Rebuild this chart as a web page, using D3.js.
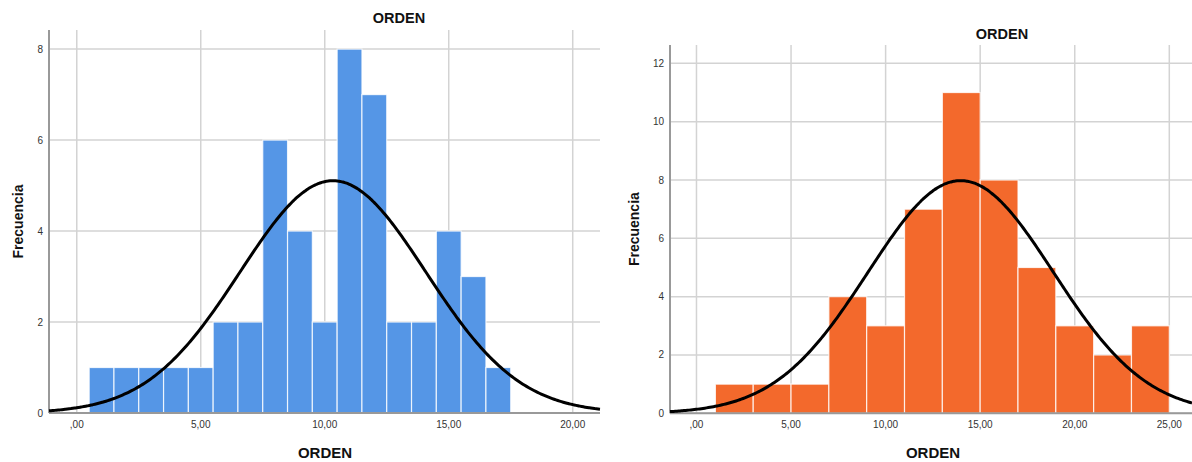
<!DOCTYPE html>
<html><head><meta charset="utf-8">
<script src="https://cdn.jsdelivr.net/npm/d3@7"></script>
<style>body{margin:0;background:#fff}svg{display:block}text{font-family:"Liberation Sans",Arial,sans-serif}</style>
</head><body><svg id="c" width="1192" height="462"></svg>
<script>
// ---- data ----
const leftBinLow = [0.5,1.5,2.5,3.5,4.5,5.5,6.5,7.5,8.5,9.5,10.5,11.5,12.5,13.5,14.5,15.5,16.5];
const leftCounts = [1,1,1,1,1,2,2,6,4,2,8,7,2,2,4,3,1];
const leftBinWidth = 1;
const leftMean = 10.33, leftSD = 3.75;
const leftXTicks = [0,5,10,15,20];
const leftXLabels = [",00","5,00","10,00","15,00","20,00"];
const leftYTicks = [0,2,4,6,8];

const rightBinLow = [1,3,5,7,9,11,13,15,17,19,21,23];
const rightCounts = [1,1,1,4,3,7,11,8,5,3,2,3];
const rightBinWidth = 2;
const rightMean = 13.97, rightSD = 4.9;
const rightXTicks = [0,5,10,15,20,25];
const rightXLabels = [",00","5,00","10,00","15,00","20,00","25,00"];
const rightYTicks = [0,2,4,6,8,10,12];

const svg = d3.select("#c");

function drawPanel(o){
  const g = svg.append("g");
  const x = d3.scaleLinear().domain(o.xDom).range([o.left,o.right]);
  const y = d3.scaleLinear().domain(o.yDom).range([o.bottom,o.top]);
  // grid
  g.selectAll(".hg").data(o.yTicks).join("line")
    .attr("x1",o.left).attr("x2",o.right).attr("y1",d=>y(d)).attr("y2",d=>y(d))
    .attr("stroke","#d3d3d3").attr("stroke-width",1.5);
  g.selectAll(".vg").data(o.xTicks).join("line")
    .attr("y1",o.top).attr("y2",o.bottom).attr("x1",d=>x(d)).attr("x2",d=>x(d))
    .attr("stroke","#d3d3d3").attr("stroke-width",1.5);
  // bars
  g.selectAll(".bar").data(o.counts).join("rect")
    .attr("x",(d,i)=>x(o.binLow[i]))
    .attr("width",(d,i)=>x(o.binLow[i]+o.binWidth)-x(o.binLow[i]))
    .attr("y",d=>y(d)).attr("height",d=>y(0)-y(d))
    .attr("fill",o.color).attr("stroke","#ffffff").attr("stroke-opacity",0.8).attr("stroke-width",1.2);
  // axes lines
  g.append("line").attr("x1",o.left).attr("x2",o.left).attr("y1",o.top).attr("y2",o.bottom)
    .attr("stroke","#999").attr("stroke-width",2);
  g.append("line").attr("x1",o.left).attr("x2",o.right).attr("y1",o.bottom).attr("y2",o.bottom)
    .attr("stroke","#999").attr("stroke-width",2);
  // y tick labels
  g.selectAll(".yl").data(o.yTicks).join("text")
    .attr("x",o.left-6).attr("y",d=>y(d)).attr("dy","0.35em").attr("text-anchor","end")
    .attr("font-size",10).attr("fill","#333").text(d=>d);
  // x tick labels
  g.selectAll(".xl").data(o.xTicks).join("text")
    .attr("x",d=>x(d)).attr("y",o.bottom+15).attr("text-anchor","middle")
    .attr("font-size",10).attr("fill","#333").text((d,i)=>o.xLabels[i]);
  // normal curve
  const N = d3.sum(o.counts);
  const pts = d3.range(o.xDom[0], o.xDom[1]+0.001, (o.xDom[1]-o.xDom[0])/300).map(v=>{
    const z=(v-o.mean)/o.sd;
    return [v, N*o.binWidth/(o.sd*Math.sqrt(2*Math.PI))*Math.exp(-0.5*z*z)];
  });
  g.append("path").datum(pts)
    .attr("d",d3.line().x(d=>x(d[0])).y(d=>y(d[1])).curve(d3.curveBasis))
    .attr("fill","none").attr("stroke","#000").attr("stroke-width",3);
  // titles
  g.append("text").attr("x",o.titleX).attr("y",o.titleY).attr("text-anchor","middle")
    .attr("font-size",14.5).attr("font-weight","bold").attr("fill","#111").text("ORDEN");
  g.append("text").attr("x",o.xTitleX).attr("y",458).attr("text-anchor","middle")
    .attr("font-size",15).attr("font-weight","bold").attr("fill","#111").text("ORDEN");
  g.append("text").attr("transform",`translate(${o.yTitleX},${(o.top+o.bottom)/2}) rotate(-90)`)
    .attr("text-anchor","middle").attr("dy","0.35em")
    .attr("font-size",14).attr("font-weight","bold").attr("fill","#111").text("Frecuencia");
}

drawPanel({left:49,right:600,top:30,bottom:413,xDom:[-1.12,21.1],yDom:[0,8.42],
  binLow:leftBinLow,counts:leftCounts,binWidth:leftBinWidth,mean:leftMean,sd:leftSD,
  xTicks:leftXTicks,xLabels:leftXLabels,yTicks:leftYTicks,color:"#5596e6",
  titleX:399,titleY:23,xTitleX:325,yTitleX:18});
drawPanel({left:670,right:1192,top:45,bottom:413.3,xDom:[-1.4,26.2],yDom:[0,12.63],
  binLow:rightBinLow,counts:rightCounts,binWidth:rightBinWidth,mean:rightMean,sd:rightSD,
  xTicks:rightXTicks,xLabels:rightXLabels,yTicks:rightYTicks,color:"#f3692c",
  titleX:1002,titleY:39,xTitleX:933,yTitleX:634});
</script></body></html>
